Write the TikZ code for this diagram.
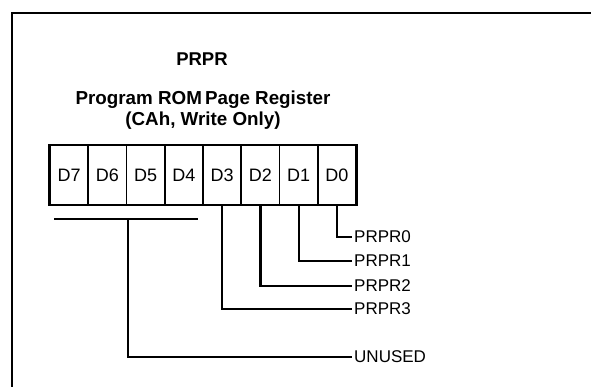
\documentclass[tikz,border=0pt]{standalone}
\usepackage{fontspec}
\setmainfont{Liberation Sans}
\usepackage{tikz}

\tikzset{
  bitcell/.style={draw, line width=1.5pt, minimum width=38.25pt, minimum height=58.7pt, inner sep=0pt, font=\fontsize{18}{18}\selectfont},
  bitlabel/.style={anchor=west, inner sep=2pt, font=\fontsize{17}{17}\selectfont},
  wire/.style={line width=2.2pt}
}

\begin{document}
\begin{tikzpicture}[x=1pt, y=-1pt]
			\useasboundingbox (0,0) rectangle (591,387);
			\draw[line width=2.4pt] (11.7,400) |- (600,13.3);

			\node (title) at (202,59) {\fontsize{18.5}{18.5}\selectfont\bfseries PRPR};
			\node[align=center, font=\fontsize{18.8}{21}\selectfont\bfseries] (name) at (203,110) {Program ROM\,Page Register\\(CAh, Write Only)};

			\node[bitcell] (d7) at (69.1,175) {D7};
			\node[bitcell] (d6) at (107.4,175) {D6};
			\node[bitcell] (d5) at (145.6,175) {D5};
			\node[bitcell] (d4) at (183.9,175) {D4};
			\node[bitcell] (d3) at (222.1,175) {D3};
			\node[bitcell] (d2) at (260.4,175) {D2};
			\node[bitcell] (d1) at (298.6,175) {D1};
			\node[bitcell] (d0) at (336.9,175) {D0};
			\draw[line width=2.4pt] (d7.north west) rectangle (d0.south east);

			\node[bitlabel] (prpr0) at (352,237) {PRPR0};
			\node[bitlabel] (prpr1) at (352,261) {PRPR1};
			\node[bitlabel] (prpr2) at (352,286) {PRPR2};
			\node[bitlabel] (prpr3) at (352,309) {PRPR3};
			\node[bitlabel] (unused) at (352,357) {UNUSED};

			\draw[wire] (d0.south) |- (prpr0.west);
			\draw[wire] (d1.south) |- (prpr1.west);
			\draw[wire] (d2.south) |- (prpr2.west);
			\draw[wire] (d3.south) |- (prpr3.west);

			\coordinate (barl) at (54,219);
			\coordinate (barr) at (198,219);
			\coordinate (barm) at (127.7,219);
			\draw[wire] (barl) -- (barr);
			\draw[wire] (barm) |- (unused.west);
		\end{tikzpicture}
\end{document}
